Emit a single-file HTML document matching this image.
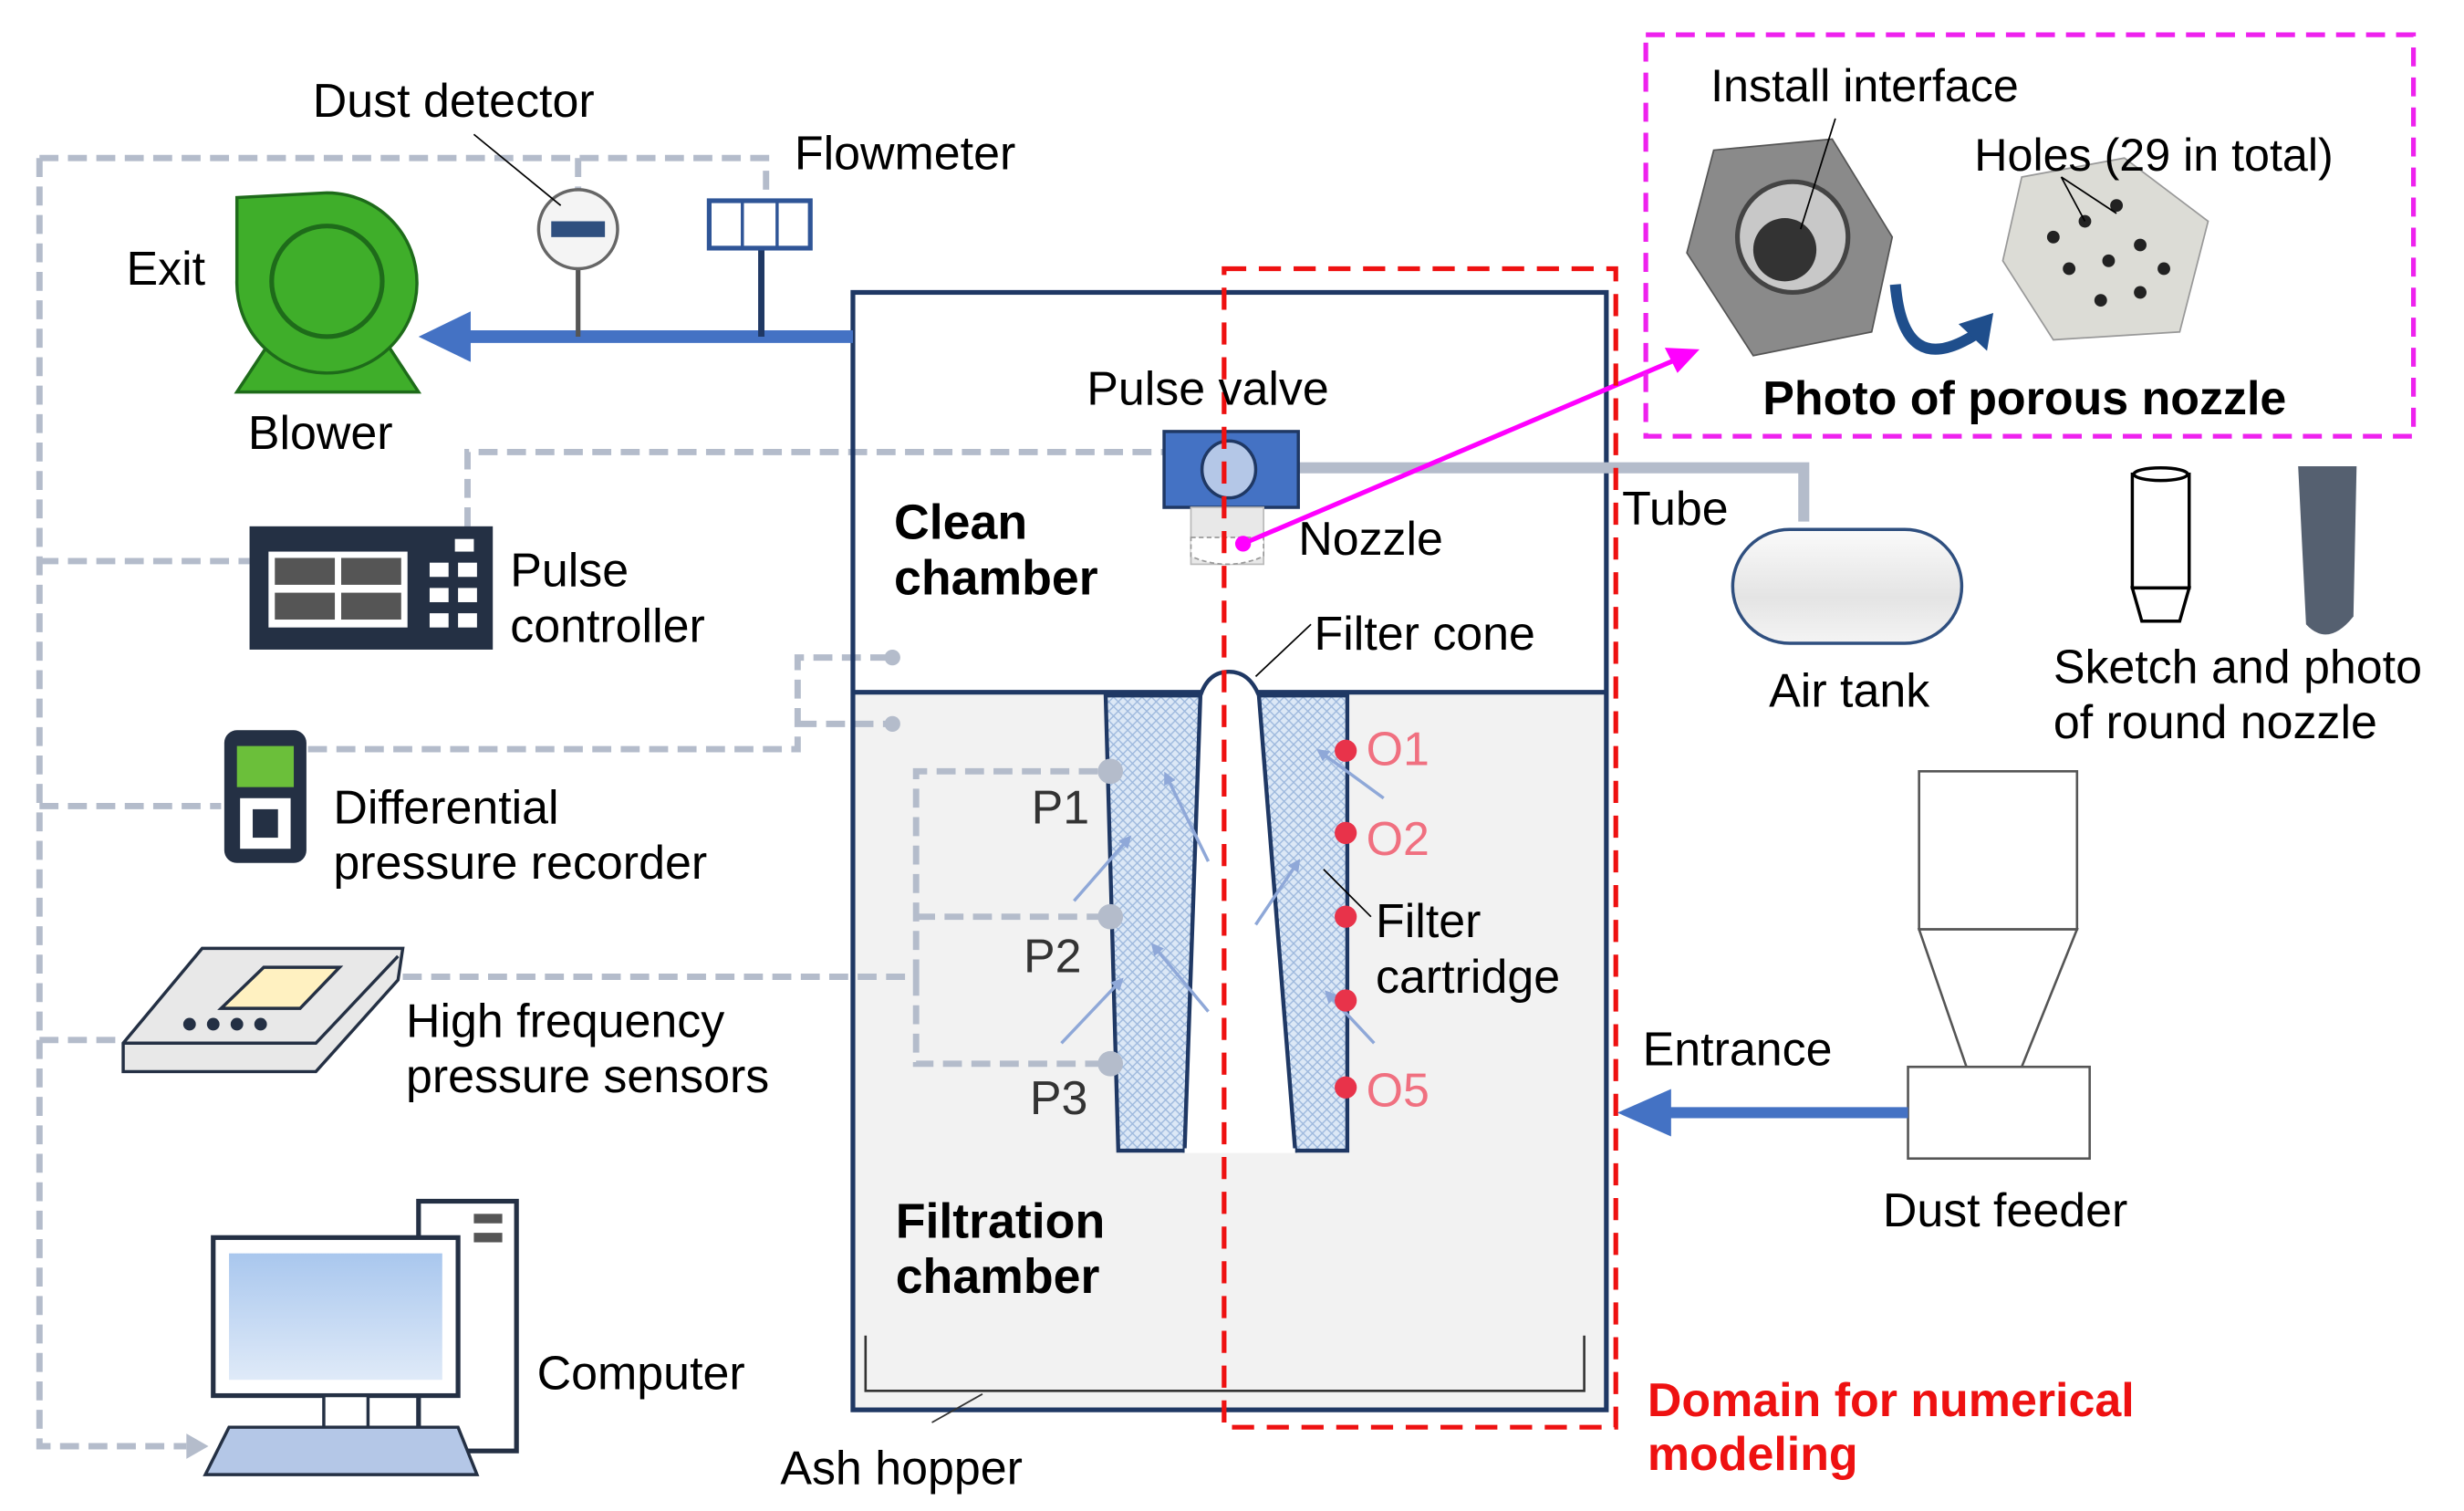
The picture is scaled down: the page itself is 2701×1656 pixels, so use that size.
<!DOCTYPE html>
<html><head><meta charset="utf-8"><style>
html,body{margin:0;padding:0;background:#fff;}
svg{display:block;font-family:"Liberation Sans",Arial,sans-serif;}
</style></head><body>
<svg width="2701" height="1656" viewBox="0 0 1560 956" preserveAspectRatio="none" xmlns="http://www.w3.org/2000/svg">
<defs>
<pattern id="mesh" width="6" height="6" patternUnits="userSpaceOnUse">
<rect width="6" height="6" fill="#dce8f6"/><path d="M0 0L6 6M6 0L0 6" stroke="#9db8dd" stroke-width="0.8"/>
</pattern>
<marker id="ah" markerWidth="8" markerHeight="8" refX="6" refY="4" orient="auto" markerUnits="userSpaceOnUse"><path d="M0 0L8 4L0 8Z" fill="#8fa8d8"/></marker>
<linearGradient id="tank" x1="0" y1="0" x2="0" y2="1"><stop offset="0" stop-color="#fafafa"/><stop offset="0.6" stop-color="#e4e4e4"/><stop offset="1" stop-color="#f4f4f4"/></linearGradient>
<linearGradient id="scr" x1="0" y1="0" x2="0" y2="1"><stop offset="0" stop-color="#a9c7ee"/><stop offset="1" stop-color="#dfeaf8"/></linearGradient>
</defs>
<!-- filtration chamber fill -->
<rect x="540" y="438" width="477" height="454" fill="#f2f2f2"/>
<!-- grey dashed signal lines -->
<g fill="none" stroke="#b4bccb" stroke-width="4" stroke-dasharray="12 6">
<path d="M25 100H485V127"/>
<path d="M366 100V122"/>
<path d="M25 100V915H118"/>
<path d="M25 355H158"/>
<path d="M25 510H140"/>
<path d="M25 658H78"/>
<path d="M296 333V286H738"/>
<path d="M195 474H505V416H565M505 458H565"/>
<path d="M255 618H580V488H703M580 580H703M580 618V673H703"/>
</g>
<path d="M118 907L132 915L118 923Z" fill="#b4bccb"/>
<circle cx="565" cy="416" r="5" fill="#b4bccb"/><circle cx="565" cy="458" r="5" fill="#b4bccb"/>
<rect x="540" y="185" width="477" height="707" fill="none" stroke="#1f3864" stroke-width="3"/>
<line x1="540" y1="438" x2="1017" y2="438" stroke="#1f3864" stroke-width="3"/>
<path d="M548 845V880H1003V845" fill="none" stroke="#333" stroke-width="1.5"/>
<line x1="590" y1="900" x2="622" y2="882" stroke="#333" stroke-width="1"/>
<!-- filter cartridge -->
<path d="M700 440H760L750 728H708Z" fill="url(#mesh)" stroke="#1f3864" stroke-width="2.5"/>
<path d="M797 440H853V728H820Z" fill="url(#mesh)" stroke="#1f3864" stroke-width="2.5"/>
<path d="M760 440Q765 425 778 425Q791 425 797 440L820 728H750Z" fill="#fff" stroke="#1f3864" stroke-width="2.5"/>
<line x1="750" y1="728" x2="820" y2="728" stroke="#fff" stroke-width="3"/>
<g stroke="#8fa8d8" stroke-width="2" marker-end="url(#ah)">
<path d="M765 545L738 490"/><path d="M680 570L715 530"/><path d="M765 640L730 598"/><path d="M672 660L710 620"/>
<path d="M876 505L835 475"/><path d="M795 585L822 545"/><path d="M870 660L840 628"/>
</g>
<g fill="#b4bccb"><circle cx="703" cy="488" r="8"/><circle cx="703" cy="580" r="8"/><circle cx="703" cy="673" r="8"/></g>
<g fill="#e8334a"><circle cx="852" cy="475" r="7"/><circle cx="852" cy="527" r="7"/><circle cx="852" cy="580" r="7"/><circle cx="852" cy="633" r="7"/><circle cx="852" cy="688" r="7"/></g>
<g font-size="30" fill="#f07080"><text x="865" y="484">O1</text><text x="865" y="541">O2</text><text x="865" y="700">O5</text></g>
<g font-size="30" fill="#333"><text x="653" y="521">P1</text><text x="648" y="615">P2</text><text x="652" y="705">P3</text></g>
<line x1="838" y1="550" x2="868" y2="580" stroke="#000" stroke-width="1"/>
<line x1="795" y1="428" x2="830" y2="395" stroke="#000" stroke-width="1"/>
<!-- pulse valve / nozzle -->
<path d="M822 296H1142V330" fill="none" stroke="#b4bccb" stroke-width="7"/>
<rect x="737" y="273" width="85" height="48" fill="#4472c4" stroke="#1f3864" stroke-width="2"/>
<ellipse cx="778" cy="297" rx="17" ry="18" fill="#b4c7e7" stroke="#1f3864" stroke-width="2"/>
<rect x="754" y="321" width="46" height="36" fill="#e8e8e8" stroke="#bbb"/>
<path d="M754 340H800V352Q777 362 754 352Z" fill="#fff" stroke="#999" stroke-dasharray="3 2"/>
<line x1="787" y1="344" x2="1060" y2="228" stroke="#ff00ff" stroke-width="3"/>
<path d="M1076 221L1054 220L1062 236Z" fill="#ff00ff"/>
<circle cx="787" cy="344" r="5" fill="#ff00ff"/>
<path d="M775 170H1023V903H775Z" fill="none" stroke="#ee1111" stroke-width="3" stroke-dasharray="14 8"/>
<rect x="1042" y="22" width="486" height="254" fill="none" stroke="#ee22ee" stroke-width="3" stroke-dasharray="12 7"/>
<!-- nut photos -->
<path d="M1085 95L1160 88L1198 150L1185 210L1110 225L1068 160Z" fill="#8a8a8a" stroke="#555"/>
<circle cx="1135" cy="150" r="35" fill="#c8c8c8" stroke="#444" stroke-width="3"/>
<circle cx="1130" cy="158" r="20" fill="#333"/>
<path d="M1280 112L1345 100L1398 140L1380 210L1300 215L1268 165Z" fill="#dcdcd6" stroke="#999"/>
<g fill="#222"><circle cx="1300" cy="150" r="4"/><circle cx="1320" cy="140" r="4"/><circle cx="1340" cy="130" r="4"/><circle cx="1310" cy="170" r="4"/><circle cx="1335" cy="165" r="4"/><circle cx="1355" cy="155" r="4"/><circle cx="1330" cy="190" r="4"/><circle cx="1355" cy="185" r="4"/><circle cx="1370" cy="170" r="4"/></g>
<path d="M1200 180Q1205 240 1250 212" fill="none" stroke="#1f4e8c" stroke-width="7"/>
<path d="M1262 198L1240 205L1258 222Z" fill="#1f4e8c"/>
<line x1="1162" y1="75" x2="1140" y2="145" stroke="#000" stroke-width="1"/>
<line x1="1305" y1="112" x2="1340" y2="135" stroke="#000" stroke-width="1"/><line x1="1305" y1="112" x2="1320" y2="140" stroke="#000" stroke-width="1"/>
<text x="1083" y="64" font-size="29">Install interface</text>
<text x="1250" y="108" font-size="29">Holes (29 in total)</text>
<text x="1116" y="262" font-size="30" font-weight="bold">Photo of porous nozzle</text>
<rect x="1097" y="335" width="145" height="72" rx="36" fill="url(#tank)" stroke="#2f4f7f" stroke-width="2"/>
<rect x="1350" y="300" width="36" height="72" fill="#fff" stroke="#000" stroke-width="2"/>
<ellipse cx="1368" cy="300" rx="17" ry="4" fill="#fff" stroke="#000" stroke-width="2"/>
<path d="M1350 372H1386L1380 393H1356Z" fill="#fff" stroke="#000" stroke-width="2"/>
<path d="M1455 295H1492L1490 390Q1474 410 1460 395Z" fill="#556070"/>
<rect x="1215" y="488" width="100" height="100" fill="#fff" stroke="#555" stroke-width="1.5"/>
<path d="M1215 588H1315L1280 675H1245Z" fill="#fff" stroke="#555" stroke-width="1.5"/>
<rect x="1208" y="675" width="115" height="58" fill="#fff" stroke="#555" stroke-width="1.5"/>
<line x1="1208" y1="704" x2="1048" y2="704" stroke="#4472c4" stroke-width="7"/>
<path d="M1024 704L1058 689V719Z" fill="#4472c4"/>
<!-- blower -->
<path d="M150 248L175 210H240L265 248Z" fill="#3fae2a" stroke="#1e6b1a" stroke-width="2"/>
<path d="M207 122A57 57 0 1 1 150 177V125Z" fill="#3fae2a" stroke="#1e6b1a" stroke-width="2"/>
<circle cx="207" cy="178" r="35" fill="none" stroke="#1e6b1a" stroke-width="3"/>
<line x1="540" y1="213" x2="295" y2="213" stroke="#4472c4" stroke-width="8"/>
<path d="M265 213L298 197V229Z" fill="#4472c4"/>
<line x1="366" y1="170" x2="366" y2="213" stroke="#555" stroke-width="3"/>
<circle cx="366" cy="145" r="25" fill="#f4f4f4" stroke="#666" stroke-width="2"/>
<rect x="349" y="140" width="34" height="10" fill="#2f4f7f"/>
<line x1="482" y1="157" x2="482" y2="213" stroke="#1f3864" stroke-width="4"/>
<rect x="449" y="127" width="64" height="30" fill="#fff" stroke="#2f5597" stroke-width="3"/>
<line x1="470" y1="127" x2="470" y2="157" stroke="#2f5597" stroke-width="2"/><line x1="492" y1="127" x2="492" y2="157" stroke="#2f5597" stroke-width="2"/>
<line x1="300" y1="85" x2="355" y2="130" stroke="#000" stroke-width="1"/>
<rect x="158" y="333" width="154" height="78" fill="#243044"/>
<rect x="170" y="349" width="88" height="48" fill="#fff"/>
<g fill="#555"><rect x="174" y="353" width="38" height="17"/><rect x="216" y="353" width="38" height="17"/><rect x="174" y="375" width="38" height="17"/><rect x="216" y="375" width="38" height="17"/></g>
<g fill="#fff"><rect x="272" y="356" width="12" height="9"/><rect x="290" y="356" width="12" height="9"/><rect x="272" y="372" width="12" height="9"/><rect x="290" y="372" width="12" height="9"/><rect x="272" y="388" width="12" height="9"/><rect x="290" y="388" width="12" height="9"/><rect x="288" y="341" width="12" height="8"/></g>
<rect x="142" y="462" width="52" height="84" rx="8" fill="#243044"/>
<rect x="150" y="472" width="36" height="26" fill="#6bbf3a"/>
<rect x="152" y="505" width="32" height="32" fill="#fff"/>
<rect x="160" y="512" width="16" height="18" fill="#243044"/>
<path d="M78 660L128 600H255L252 620L200 678H78Z" fill="#e8e8e8" stroke="#243044" stroke-width="2"/>
<path d="M78 660H200L252 605" fill="none" stroke="#243044" stroke-width="2"/>
<path d="M140 638L167 612H215L190 638Z" fill="#fff1c1" stroke="#243044" stroke-width="2"/>
<g fill="#243044"><circle cx="120" cy="648" r="4"/><circle cx="135" cy="648" r="4"/><circle cx="150" cy="648" r="4"/><circle cx="165" cy="648" r="4"/></g>
<rect x="265" y="760" width="62" height="158" fill="#fff" stroke="#243044" stroke-width="3"/>
<rect x="300" y="768" width="18" height="6" fill="#555"/><rect x="300" y="780" width="18" height="6" fill="#555"/>
<rect x="135" y="783" width="155" height="100" fill="#fff" stroke="#243044" stroke-width="3"/>
<rect x="145" y="793" width="135" height="80" fill="url(#scr)"/>
<rect x="205" y="883" width="28" height="20" fill="#fff" stroke="#243044" stroke-width="2"/>
<path d="M145 903H290L302 933H130Z" fill="#b4c7e7" stroke="#243044" stroke-width="2"/>
<g font-size="30" fill="#000">
<text x="198" y="74">Dust detector</text>
<text x="503" y="107">Flowmeter</text>
<text x="80" y="180">Exit</text>
<text x="157" y="284">Blower</text>
<text x="323" y="371">Pulse</text><text x="323" y="406">controller</text>
<text x="211" y="521">Differential</text><text x="211" y="556">pressure recorder</text>
<text x="257" y="656">High frequency</text><text x="257" y="691">pressure sensors</text>
<text x="340" y="879">Computer</text>
<text x="494" y="939">Ash hopper</text>
<text x="688" y="256">Pulse valve</text>
<text x="822" y="351">Nozzle</text>
<text x="832" y="411">Filter cone</text>
<text x="871" y="593">Filter</text><text x="871" y="628">cartridge</text>
<text x="1027" y="332">Tube</text>
<text x="1120" y="447">Air tank</text>
<text x="1300" y="432">Sketch and photo</text><text x="1300" y="467">of round nozzle</text>
<text x="1040" y="674">Entrance</text>
<text x="1192" y="776">Dust feeder</text>
</g>
<g font-size="31" font-weight="bold" fill="#000">
<text x="566" y="341">Clean</text><text x="566" y="376">chamber</text>
<text x="567" y="783">Filtration</text><text x="567" y="818">chamber</text>
</g>
<g font-size="30" font-weight="bold" fill="#ee1111">
<text x="1043" y="896">Domain for numerical</text><text x="1043" y="930">modeling</text>
</g>
</svg>
</body></html>
